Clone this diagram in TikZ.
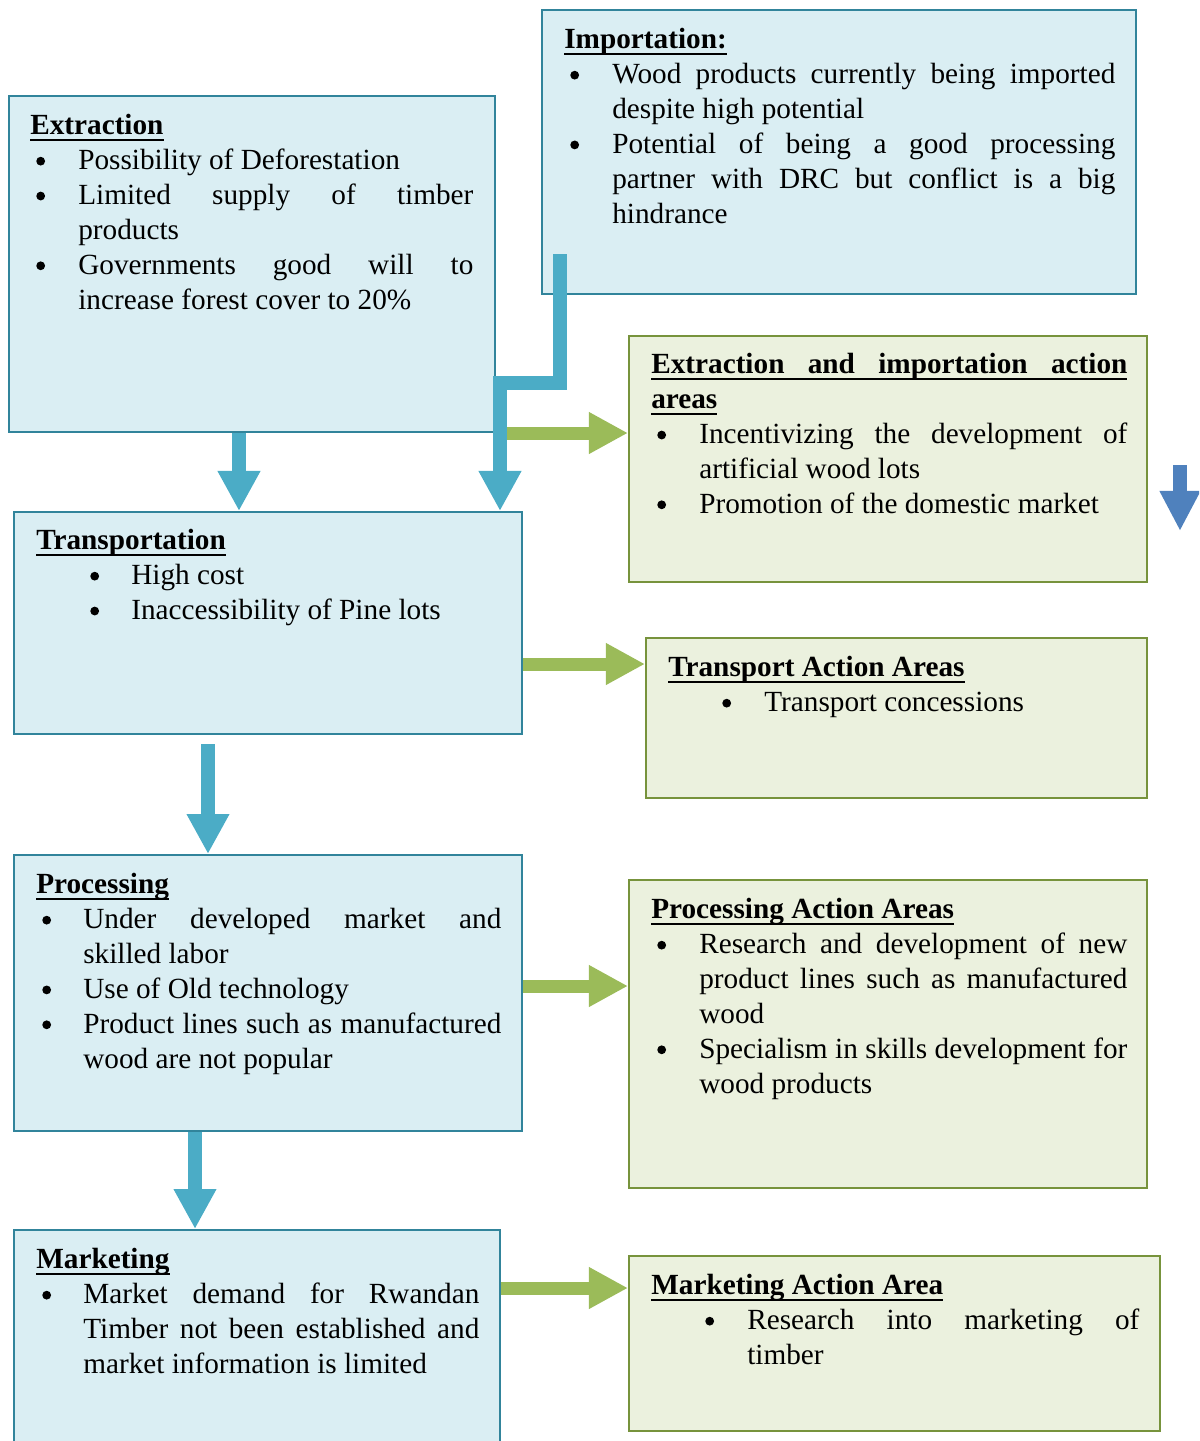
\documentclass[tikz,border=0pt]{standalone}
\usepackage{fontspec}
\setmainfont{Liberation Serif}
\usepackage{enumitem}
\usetikzlibrary{arrows.meta, fit}
\definecolor{issuefill}{RGB}{218,238,243}
\definecolor{issueedge}{RGB}{49,132,155}
\definecolor{actionfill}{RGB}{235,241,222}
\definecolor{actionedge}{RGB}{119,147,60}
\definecolor{flowblue}{RGB}{75,172,198}
\definecolor{flowgreen}{RGB}{155,187,89}
\definecolor{sideblue}{RGB}{79,129,189}
\setlength{\parindent}{0pt}
\hyphenpenalty=10000
\exhyphenpenalty=10000
% round bullet, a bit larger than the font's own
\newcommand{\dotmark}{\tikz[baseline=0pt]\fill[black] (0.11cm,0.21cm) circle (0.11cm);}
\newlist{pts}{itemize}{1}
\setlist[pts]{label=\dotmark, leftmargin=1.2cm, labelwidth=1.05cm, labelsep=0pt, align=left, nosep}
% thick underline for the box titles
\newsavebox{\headbox}
\newcommand{\ulbox}[1]{\leavevmode\sbox{\headbox}{#1}\rlap{\rule[-4.5pt]{\wd\headbox}{1.5pt}}\usebox{\headbox}}
\newcommand{\boxhead}[1]{\strut\ulbox{\textbf{#1}}}

\begin{document}
\begin{tikzpicture}[
		x=0.025cm, y=-0.025cm,
		issue/.style={draw=issueedge, fill=issuefill, line width=0.05cm, inner sep=0pt},
		action/.style={draw=actionedge, fill=actionfill, line width=0.05cm, inner sep=0pt},
		body/.style={anchor=north west, inner sep=0pt, align=justify,
			font=\fontsize{20.8pt}{24.8pt}\selectfont},
		flowdown/.style={-{Triangle[length=1cm, width=1cm]}, line width=0.34cm, draw=flowblue},
		flowright/.style={-{Triangle[length=0.975cm, width=0.975cm]}, line width=0.325cm, draw=flowgreen},
		sidedown/.style={-{Triangle[length=1cm, width=0.95cm]}, line width=0.35cm, draw=sideblue}
	]
		\path[use as bounding box, clip] (0,0) rectangle (1199,1441);

		% value chain stages
		\node[issue, fit={(9,96) (495,432)}] (extr) {};
		\node[body, text width=11.075cm] (extr-t) at (30,110) {\boxhead{Extraction}
			\begin{pts}
				\item Possibility of Deforestation
				\item Limited supply of timber\linebreak products
				\item Governments good will to\linebreak increase forest cover to 20\%
			\end{pts}};

		\node[issue, fit={(542,10) (1136,294)}] (imp) {};
		\node[body, text width=13.775cm] (imp-t) at (564,24) {\boxhead{Importation:}
			\begin{pts}
				\item Wood products currently being imported\linebreak despite high potential
				\item Potential of being a good processing\linebreak partner with DRC but conflict is a big\linebreak hindrance
			\end{pts}};

		\node[issue, fit={(14,512) (522,734)}] (transp) {};
		\node[body, text width=11.625cm] (transp-t) at (36,525) {\boxhead{Transportation}
			\begin{pts}[leftmargin=2.375cm, labelwidth=1.025cm]
				\item High cost
				\item Inaccessibility of Pine lots
			\end{pts}};

		\node[issue, fit={(14,855) (522,1131)}] (proc) {};
		\node[body, text width=11.625cm] (proc-t) at (36,869) {\boxhead{Processing}
			\begin{pts}[leftmargin=1.175cm, labelwidth=1.025cm]
				\item Under developed market and\linebreak skilled labor
				\item Use of Old technology
				\item Product lines such as manufactured\linebreak wood are not popular
			\end{pts}};

		\node[issue, fit={(14,1230) (500,1470)}] (mark) {};
		\node[body, text width=11.075cm] (mark-t) at (36,1244) {\boxhead{Marketing}
			\begin{pts}[leftmargin=1.175cm, labelwidth=1.025cm]
				\item Market demand for Rwandan\linebreak Timber not been established and\linebreak market information is limited
			\end{pts}};

		% action areas
		\node[action, fit={(629,336) (1147,582)}] (extact) {};
		\node[body, text width=11.9cm] (extact-t) at (651,349) {\strut\ulbox{\makebox[11.9cm][s]{\textbf{Extraction and importation action}}}\par
			\ulbox{\textbf{areas}}
			\begin{pts}
				\item Incentivizing the development of\linebreak artificial wood lots
				\item Promotion of the domestic market
			\end{pts}};

		\node[action, fit={(646,638) (1147,798)}] (tract) {};
		\node[body, text width=11.45cm] (tract-t) at (668,652) {\boxhead{Transport Action Areas}
			\begin{pts}[leftmargin=2.4cm, labelwidth=1.05cm]
				\item Transport concessions
			\end{pts}};

		\node[action, fit={(629,880) (1147,1188)}] (pract) {};
		\node[body, text width=11.9cm] (pract-t) at (651,894) {\boxhead{Processing Action Areas}
			\begin{pts}
				\item Research and development of new\linebreak product lines such as manufactured\linebreak wood
				\item Specialism in skills development for\linebreak wood products
			\end{pts}};

		\node[action, fit={(629,1256) (1160,1431)}] (mkact) {};
		\node[body, text width=12.2cm] (mkact-t) at (651,1270) {\boxhead{Marketing Action Area}
			\begin{pts}[leftmargin=2.4cm, labelwidth=1.05cm]
				\item Research into marketing of\linebreak timber
			\end{pts}};

		% stage -> action arrows
		\draw[flowright] (extr.south east) -- (extact.west |- extr.south east);
		\draw[flowright] (transp.east |- 0,664) -- (tract.west |- 0,664);
		\draw[flowright] (proc.east |- 0,986) -- (pract.west |- 0,986);
		\draw[flowright] (mark.east |- 0,1288) -- (mkact.west |- 0,1288);

		% stage -> stage arrows
		\coordinate (imp-out) at (560,254);
		\coordinate (transp-out) at (208,744);
		\draw[flowdown] (extr.south -| 239,0) -- (transp.north -| 239,0);
		\draw[flowdown, line join=miter] (imp-out) -- ++(0,129) -| (transp.north -| 500,0);
		\draw[flowdown] (transp-out) -- (proc.north -| transp-out);
		\draw[flowdown] (proc.south -| 195,0) -- (mark.north -| 195,0);

		\coordinate (side-top) at (1180,465);
		\coordinate (side-tip) at (1180,531);
		\draw[sidedown] (side-top) -- (side-tip);
	\end{tikzpicture}
\end{document}
